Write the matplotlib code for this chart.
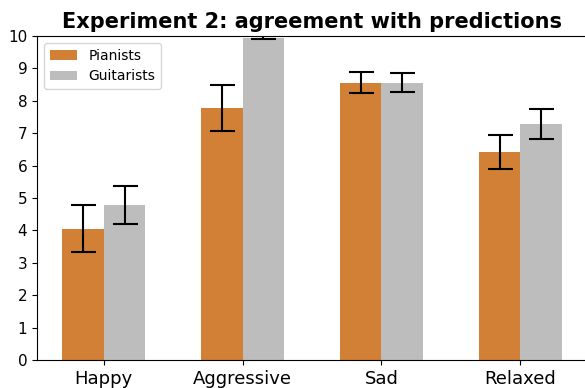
import matplotlib.pyplot as plt
import numpy as np

emotions = ['Happy', 'Aggressive', 'Sad', 'Relaxed']
pianists = [4.05, 7.78, 8.56, 6.42]
pianists_err = [0.72, 0.71, 0.33, 0.51]
guitarists = [4.78, 9.95, 8.56, 7.28]
guitarists_err = [0.58, 0.05, 0.30, 0.47]

x = np.arange(len(emotions))
width = 0.3

fig = plt.figure(figsize=(5.85, 3.88), dpi=100)
ax = fig.add_axes([37 / 585, 28 / 388, 550 / 585, 324 / 388])

ax.bar(x - width / 2, pianists, width, yerr=pianists_err, color='#d18035',
       capsize=9, error_kw={'elinewidth': 1.5, 'capthick': 1.5}, label='Pianists')
ax.bar(x + width / 2, guitarists, width, yerr=guitarists_err, color='#bdbdbd',
       capsize=9, error_kw={'elinewidth': 1.5, 'capthick': 1.5}, label='Guitarists')

ax.set_ylim(0, 10)
ax.set_yticks(range(0, 11))
ax.set_xticks(x)
ax.set_xticklabels(emotions, fontsize=13)
ax.tick_params(axis='y', labelsize=11)
ax.set_title('Experiment 2: agreement with predictions', fontsize=15, fontweight='bold')
ax.legend(loc='upper left', fontsize=10)

plt.savefig('out.png', dpi=100)
